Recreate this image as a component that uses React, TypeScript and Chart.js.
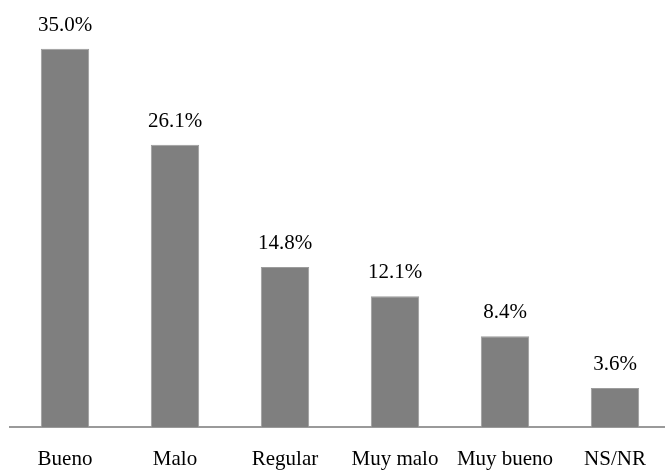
import React, { useEffect, useRef } from "react";
import { Chart, registerables } from "chart.js";

Chart.register(...registerables);

const categories = ["Bueno", "Malo", "Regular", "Muy malo", "Muy bueno", "NS/NR"];
const values = [35.0, 26.1, 14.8, 12.1, 8.4, 3.6];

const FONT = "'Liberation Serif', 'Times New Roman', serif";

const valueLabels = {
  id: "valueLabels",
  afterDatasetsDraw(chart: any) {
    const ctx = chart.ctx;
    const meta = chart.getDatasetMeta(0);
    ctx.save();
    ctx.font = `21px ${FONT}`;
    ctx.fillStyle = "#000";
    ctx.textAlign = "center";
    ctx.textBaseline = "alphabetic";
    meta.data.forEach((bar: any, i: number) => {
      ctx.fillText(values[i].toFixed(1) + "%", bar.x, bar.y - 18);
    });
    ctx.restore();
  },
};

export default function App() {
  const ref = useRef<HTMLCanvasElement>(null);
  useEffect(() => {
    if (!ref.current) return;
    const chart = new Chart(ref.current, {
      type: "bar",
      data: {
        labels: categories,
        datasets: [
          {
            data: values,
            backgroundColor: "#7f7f7f",
            borderColor: "#9c9c9c",
            borderWidth: 1,
            barPercentage: 0.44,
            categoryPercentage: 1,
          },
        ],
      },
      options: {
        responsive: false,
        animation: false,
        layout: { padding: { left: 10, right: 0, top: 0, bottom: 0 } },
        plugins: { legend: { display: false }, tooltip: { enabled: false } },
        scales: {
          x: {
            grid: { display: false, drawTicks: false },
            border: { display: true, color: "#9a9a9a", width: 2 },
            ticks: {
              color: "#000",
              font: { family: FONT, size: 21 },
              padding: 20,
              maxRotation: 0,
              autoSkip: false,
            },
            afterFit: (scale: any) => {
              scale.height = 43;
            },
          },
          y: { display: false, min: 0, max: 39.5 },
        },
      },
      plugins: [valueLabels],
    });
    return () => chart.destroy();
  }, []);
  return (
    <div style={{ position: "absolute", left: 0, top: 0, width: 665, height: 470, overflow: "hidden", background: "#fff" }}>
      <canvas ref={ref} width={670} height={470} style={{ width: 670, height: 470, display: "block" }} />
    </div>
  );
}
